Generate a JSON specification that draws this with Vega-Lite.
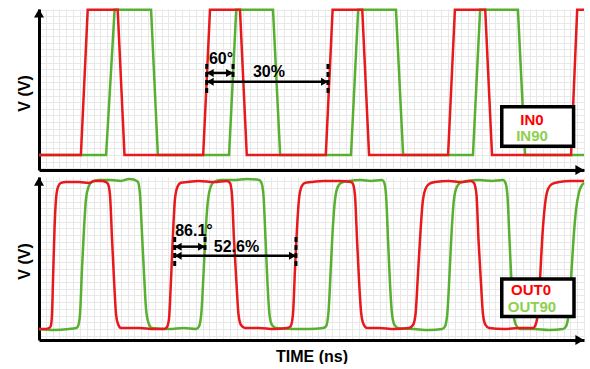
{
  "$schema": "https://vega.github.io/schema/vega-lite/v6.json",
  "background": "white",
  "padding": {"left": 16, "top": 4, "right": 5, "bottom": 0},
  "spacing": 7,
  "bounds": "flush",
  "config": {
    "view": {"stroke": null},
    "axis": {"labels": false, "ticks": false, "domainColor": "black", "domainWidth": 3, "gridColor": "#e8e8e8", "gridWidth": 1, "titleFont": "Liberation Sans", "titleFontSize": 16, "titleFontWeight": "bold", "titleColor": "black"}
  },
  "datasets": {
    "inR": [{"t":0,"v":0},{"t":6.15,"v":0},{"t":7.15,"v":1.1},{"t":11.55,"v":1.1},{"t":12.55,"v":0},{"t":24.1,"v":0},{"t":25.1,"v":1.1},{"t":29.5,"v":1.1},{"t":30.5,"v":0},{"t":42.1,"v":0},{"t":43.1,"v":1.1},{"t":47.45,"v":1.1},{"t":48.45,"v":0},{"t":60.05,"v":0},{"t":61.05,"v":1.1},{"t":65.5,"v":1.1},{"t":66.5,"v":0},{"t":78.1,"v":0},{"t":79.0,"v":1.1},{"t":80,"v":1.1}],
    "inG": [{"t":0,"v":0},{"t":9.85,"v":0},{"t":11.1,"v":1.1},{"t":16.45,"v":1.1},{"t":17.45,"v":0},{"t":27.9,"v":0},{"t":28.95,"v":1.1},{"t":34.35,"v":1.1},{"t":35.4,"v":0},{"t":45.8,"v":0},{"t":46.85,"v":1.1},{"t":52.4,"v":1.1},{"t":53.45,"v":0},{"t":63.7,"v":0},{"t":64.75,"v":1.1},{"t":70.3,"v":1.1},{"t":71.35,"v":0},{"t":80,"v":0}],
    "outR": [{"t":0,"v":0},{"t":0.73,"v":0},{"t":1.47,"v":0.007},{"t":1.72,"v":0.02},{"t":1.91,"v":0.11},{"t":2.06,"v":0.37},{"t":2.28,"v":0.75},{"t":2.5,"v":0.97},{"t":2.79,"v":1.06},{"t":3.23,"v":1.09},{"t":3.96,"v":1.096},{"t":5.87,"v":1.096},{"t":7.34,"v":1.089},{"t":8.07,"v":1.104},{"t":9.25,"v":1.104},{"t":9.83,"v":1.096},{"t":10.13,"v":1.081},{"t":10.42,"v":1.0},{"t":10.72,"v":0.67},{"t":11.01,"v":0.37},{"t":11.31,"v":0.11},{"t":11.6,"v":0.037},{"t":12.04,"v":0.007},{"t":14.68,"v":0.0075},{"t":16.88,"v":0},{"t":18.35,"v":0},{"t":18.79,"v":0.015},{"t":19.08,"v":0.075},{"t":19.38,"v":0.37},{"t":19.67,"v":0.71},{"t":19.96,"v":0.97},{"t":20.33,"v":1.06},{"t":20.84,"v":1.09},{"t":21.73,"v":1.096},{"t":23.49,"v":1.104},{"t":25.69,"v":1.096},{"t":27.6,"v":1.104},{"t":28.04,"v":1.089},{"t":28.33,"v":1.0},{"t":28.62,"v":0.67},{"t":28.99,"v":0.34},{"t":29.28,"v":0.11},{"t":29.65,"v":0.03},{"t":30.24,"v":0.0075},{"t":32.29,"v":0.0075},{"t":34.5,"v":0},{"t":36.4,"v":0.0075},{"t":36.92,"v":0.02},{"t":37.28,"v":0.11},{"t":37.58,"v":0.45},{"t":37.87,"v":0.75},{"t":38.17,"v":0.97},{"t":38.53,"v":1.06},{"t":39.05,"v":1.09},{"t":39.93,"v":1.096},{"t":41.83,"v":1.104},{"t":44.04,"v":1.104},{"t":45.8,"v":1.096},{"t":46.09,"v":1.081},{"t":46.39,"v":0.99},{"t":46.68,"v":0.67},{"t":46.97,"v":0.37},{"t":47.27,"v":0.13},{"t":47.63,"v":0.037},{"t":48.15,"v":0.0075},{"t":49.91,"v":0.0075},{"t":52.11,"v":0},{"t":54.31,"v":0.0075},{"t":54.9,"v":0.03},{"t":55.27,"v":0.11},{"t":55.63,"v":0.41},{"t":55.93,"v":0.67},{"t":56.29,"v":0.93},{"t":56.73,"v":1.044},{"t":57.25,"v":1.081},{"t":58.13,"v":1.096},{"t":60.18,"v":1.104},{"t":61.94,"v":1.096},{"t":63.41,"v":1.104},{"t":63.85,"v":1.089},{"t":64.22,"v":1.0},{"t":64.51,"v":0.67},{"t":64.88,"v":0.34},{"t":65.17,"v":0.11},{"t":65.54,"v":0.03},{"t":66.06,"v":0.0075},{"t":68.26,"v":0},{"t":70.46,"v":0.0075},{"t":72.51,"v":0.0075},{"t":72.88,"v":0.03},{"t":73.25,"v":0.13},{"t":73.54,"v":0.37},{"t":73.91,"v":0.71},{"t":74.28,"v":0.93},{"t":74.72,"v":1.044},{"t":75.3,"v":1.081},{"t":76.33,"v":1.096},{"t":78.09,"v":1.104},{"t":80,"v":1.104}],
    "outG": [{"t":0,"v":0},{"t":2.2,"v":-0.0075},{"t":4.4,"v":0},{"t":5.43,"v":0.0075},{"t":5.72,"v":0.02},{"t":6.02,"v":0.11},{"t":6.31,"v":0.45},{"t":6.61,"v":0.75},{"t":6.9,"v":0.97},{"t":7.27,"v":1.06},{"t":7.78,"v":1.096},{"t":8.81,"v":1.111},{"t":10.57,"v":1.111},{"t":12.04,"v":1.104},{"t":13.21,"v":1.119},{"t":14.09,"v":1.111},{"t":14.53,"v":1.096},{"t":14.83,"v":1.0},{"t":15.12,"v":0.71},{"t":15.42,"v":0.41},{"t":15.71,"v":0.15},{"t":16.08,"v":0.045},{"t":16.59,"v":0.0075},{"t":19.08,"v":0},{"t":21.3,"v":0.0075},{"t":23.05,"v":0},{"t":23.49,"v":0.02},{"t":23.85,"v":0.13},{"t":24.15,"v":0.41},{"t":24.44,"v":0.71},{"t":24.74,"v":0.93},{"t":25.1,"v":1.044},{"t":25.69,"v":1.096},{"t":26.72,"v":1.111},{"t":28.62,"v":1.111},{"t":30.53,"v":1.119},{"t":32.29,"v":1.111},{"t":32.66,"v":1.089},{"t":32.96,"v":0.99},{"t":33.25,"v":0.67},{"t":33.54,"v":0.34},{"t":33.83,"v":0.11},{"t":34.2,"v":0.03},{"t":34.79,"v":0.0075},{"t":37.43,"v":0},{"t":39.63,"v":0},{"t":41.69,"v":0.0075},{"t":42.13,"v":0.02},{"t":42.5,"v":0.13},{"t":42.79,"v":0.41},{"t":43.08,"v":0.71},{"t":43.38,"v":0.93},{"t":43.74,"v":1.044},{"t":44.33,"v":1.089},{"t":45.5,"v":1.104},{"t":47.27,"v":1.111},{"t":48.73,"v":1.104},{"t":50.35,"v":1.111},{"t":50.64,"v":1.096},{"t":50.94,"v":1.0},{"t":51.23,"v":0.67},{"t":51.52,"v":0.34},{"t":51.82,"v":0.11},{"t":52.18,"v":0.03},{"t":52.7,"v":0.0075},{"t":55.05,"v":0},{"t":57.25,"v":-0.0075},{"t":59.16,"v":0},{"t":59.6,"v":0.02},{"t":59.96,"v":0.13},{"t":60.26,"v":0.41},{"t":60.55,"v":0.71},{"t":60.84,"v":0.93},{"t":61.21,"v":1.044},{"t":61.8,"v":1.089},{"t":62.83,"v":1.104},{"t":64.59,"v":1.111},{"t":66.5,"v":1.104},{"t":68.11,"v":1.111},{"t":68.48,"v":1.089},{"t":68.77,"v":0.99},{"t":69.06,"v":0.67},{"t":69.36,"v":0.34},{"t":69.65,"v":0.11},{"t":70.02,"v":0.03},{"t":70.61,"v":0},{"t":72.66,"v":0},{"t":74.86,"v":-0.0075},{"t":76.92,"v":0},{"t":77.36,"v":0.02},{"t":77.73,"v":0.11},{"t":78.09,"v":0.37},{"t":78.46,"v":0.67},{"t":78.83,"v":0.89},{"t":79.27,"v":1.02},{"t":79.71,"v":1.074},{"t":80,"v":1.089}]
  },
  "vconcat": [
    {
      "width": 545,
      "height": 161,
      "layer": [
        {
          "data": {"name": "inG"},
          "mark": {"type": "line", "color": "#58b030", "strokeWidth": 2.5},
          "encoding": {
            "x": {"field": "t", "type": "quantitative", "scale": {"domain": [0, 80], "nice": false, "zero": false}, "axis": {"title": null, "tickCount": 80, "grid": true}},
            "y": {"field": "v", "type": "quantitative", "scale": {"domain": [-0.1136, 1.105], "nice": false, "zero": false}, "axis": {"title": "V (V)", "titlePadding": 7, "titleY": 84, "tickCount": 24, "grid": true}}
          }
        },
        {
          "data": {"name": "inR"},
          "mark": {"type": "line", "color": "#e8191c", "strokeWidth": 2.5},
          "encoding": {"x": {"field": "t", "type": "quantitative"}, "y": {"field": "v", "type": "quantitative"}}
        },
        {
          "data": {"values": [{"t": 24.62, "v": 0.689, "v2": 0.469}, {"t": 28.48, "v": 0.689, "v2": 0.583}, {"t": 42.42, "v": 0.689, "v2": 0.469}]},
          "mark": {"type": "rule", "color": "black", "strokeWidth": 3, "strokeDash": [5, 3]},
          "encoding": {"x": {"field": "t", "type": "quantitative"}, "y": {"field": "v", "type": "quantitative"}, "y2": {"field": "v2"}}
        },
        {
          "data": {"values": [{"t": 24.62, "t2": 28.48, "v": 0.621}, {"t": 24.62, "t2": 42.42, "v": 0.555}]},
          "mark": {"type": "rule", "color": "black", "strokeWidth": 2.5},
          "encoding": {"x": {"field": "t", "type": "quantitative"}, "x2": {"field": "t2"}, "y": {"field": "v", "type": "quantitative"}}
        },
        {
          "data": {"values": [{"t": 25.13, "v": 0.621, "dir": "left"}, {"t": 27.97, "v": 0.621, "dir": "right"}, {"t": 25.13, "v": 0.555, "dir": "left"}, {"t": 41.91, "v": 0.555, "dir": "right"}]},
          "mark": {"type": "point", "filled": true, "color": "black", "opacity": 1, "size": 64},
          "encoding": {"x": {"field": "t", "type": "quantitative"}, "y": {"field": "v", "type": "quantitative"}, "shape": {"field": "dir", "type": "nominal", "scale": {"domain": ["up", "right", "left"], "range": ["triangle-up", "triangle-right", "triangle-left"]}, "legend": null}}
        },
        {
          "data": {"values": [{"t": 0, "v": 1.0725, "dir": "up"}, {"t": 79.37, "v": -0.1136, "dir": "right"}]},
          "mark": {"type": "point", "filled": true, "color": "black", "opacity": 1, "size": 100},
          "encoding": {"x": {"field": "t", "type": "quantitative"}, "y": {"field": "v", "type": "quantitative"}, "shape": {"field": "dir", "type": "nominal", "scale": {"domain": ["up", "right", "left"], "range": ["triangle-up", "triangle-right", "triangle-left"]}, "legend": null}}
        },
        {
          "data": {"values": [{"t": 26.72, "v": 0.727, "label": "60°"}, {"t": 33.76, "v": 0.628, "label": "30%"}]},
          "mark": {"type": "text", "font": "Liberation Sans", "fontWeight": "bold", "fontSize": 16, "align": "center", "baseline": "middle", "color": "black"},
          "encoding": {"x": {"field": "t", "type": "quantitative"}, "y": {"field": "v", "type": "quantitative"}, "text": {"field": "label"}}
        },
        {
          "data": {"values": [{"t": 67.93, "t2": 78.47, "v": 0.366, "v2": 0.0658}]},
          "mark": {"type": "rect", "fill": "white", "stroke": "black", "strokeWidth": 3.5},
          "encoding": {"x": {"field": "t", "type": "quantitative"}, "x2": {"field": "t2"}, "y": {"field": "v", "type": "quantitative"}, "y2": {"field": "v2"}}
        },
        {
          "data": {"values": [{"t": 72.37, "v": 0.262, "label": "IN0"}, {"t": 72.37, "v": 0.145, "label": "IN90"}]},
          "mark": {"type": "text", "font": "Liberation Sans", "fontWeight": "bold", "fontSize": 15, "align": "center", "baseline": "middle"},
          "encoding": {"x": {"field": "t", "type": "quantitative"}, "y": {"field": "v", "type": "quantitative"}, "text": {"field": "label"}, "color": {"field": "label", "type": "nominal", "scale": {"domain": ["IN0", "IN90"], "range": ["#ff0000", "#8fcf50"]}, "legend": null}}
        }
      ]
    },
    {
      "width": 545,
      "height": 163,
      "layer": [
        {
          "data": {"name": "outG"},
          "mark": {"type": "line", "color": "#58b030", "strokeWidth": 2.5, "interpolate": "monotone"},
          "encoding": {
            "x": {"field": "t", "type": "quantitative", "scale": {"domain": [0, 80], "nice": false, "zero": false}, "axis": {"title": "TIME (ns)", "titlePadding": 8, "tickCount": 80, "grid": true}},
            "y": {"field": "v", "type": "quantitative", "scale": {"domain": [-0.082, 1.1335], "nice": false, "zero": false}, "axis": {"title": "V (V)", "titlePadding": 7, "titleY": 84, "tickCount": 24, "grid": true}}
          }
        },
        {
          "data": {"name": "outR"},
          "mark": {"type": "line", "color": "#e8191c", "strokeWidth": 2.5, "interpolate": "monotone"},
          "encoding": {"x": {"field": "t", "type": "quantitative"}, "y": {"field": "v", "type": "quantitative"}}
        },
        {
          "data": {"values": [{"t": 19.92, "v": 0.686, "v2": 0.462}, {"t": 24.37, "v": 0.686, "v2": 0.582}, {"t": 37.72, "v": 0.686, "v2": 0.462}]},
          "mark": {"type": "rule", "color": "black", "strokeWidth": 3, "strokeDash": [5, 3]},
          "encoding": {"x": {"field": "t", "type": "quantitative"}, "y": {"field": "v", "type": "quantitative"}, "y2": {"field": "v2"}}
        },
        {
          "data": {"values": [{"t": 19.92, "t2": 24.37, "v": 0.614}, {"t": 19.92, "t2": 37.72, "v": 0.547}]},
          "mark": {"type": "rule", "color": "black", "strokeWidth": 2.5},
          "encoding": {"x": {"field": "t", "type": "quantitative"}, "x2": {"field": "t2"}, "y": {"field": "v", "type": "quantitative"}}
        },
        {
          "data": {"values": [{"t": 20.43, "v": 0.614, "dir": "left"}, {"t": 23.86, "v": 0.614, "dir": "right"}, {"t": 20.43, "v": 0.547, "dir": "left"}, {"t": 37.21, "v": 0.547, "dir": "right"}]},
          "mark": {"type": "point", "filled": true, "color": "black", "opacity": 1, "size": 64},
          "encoding": {"x": {"field": "t", "type": "quantitative"}, "y": {"field": "v", "type": "quantitative"}, "shape": {"field": "dir", "type": "nominal", "scale": {"domain": ["up", "right", "left"], "range": ["triangle-up", "triangle-right", "triangle-left"]}, "legend": null}}
        },
        {
          "data": {"values": [{"t": 0, "v": 1.101, "dir": "up"}, {"t": 79.37, "v": -0.082, "dir": "right"}]},
          "mark": {"type": "point", "filled": true, "color": "black", "opacity": 1, "size": 100},
          "encoding": {"x": {"field": "t", "type": "quantitative"}, "y": {"field": "v", "type": "quantitative"}, "shape": {"field": "dir", "type": "nominal", "scale": {"domain": ["up", "right", "left"], "range": ["triangle-up", "triangle-right", "triangle-left"]}, "legend": null}}
        },
        {
          "data": {"values": [{"t": 22.75, "v": 0.733, "label": "86.1°"}, {"t": 28.99, "v": 0.614, "label": "52.6%"}]},
          "mark": {"type": "text", "font": "Liberation Sans", "fontWeight": "bold", "fontSize": 16, "align": "center", "baseline": "middle", "color": "black"},
          "encoding": {"x": {"field": "t", "type": "quantitative"}, "y": {"field": "v", "type": "quantitative"}, "text": {"field": "label"}}
        },
        {
          "data": {"values": [{"t": 67.93, "t2": 78.53, "v": 0.373, "v2": 0.093}]},
          "mark": {"type": "rect", "fill": "white", "stroke": "black", "strokeWidth": 3.5},
          "encoding": {"x": {"field": "t", "type": "quantitative"}, "x2": {"field": "t2"}, "y": {"field": "v", "type": "quantitative"}, "y2": {"field": "v2"}}
        },
        {
          "data": {"values": [{"t": 72.22, "v": 0.29, "label": "OUT0"}, {"t": 72.37, "v": 0.163, "label": "OUT90"}]},
          "mark": {"type": "text", "font": "Liberation Sans", "fontWeight": "bold", "fontSize": 15, "align": "center", "baseline": "middle"},
          "encoding": {"x": {"field": "t", "type": "quantitative"}, "y": {"field": "v", "type": "quantitative"}, "text": {"field": "label"}, "color": {"field": "label", "type": "nominal", "scale": {"domain": ["OUT0", "OUT90"], "range": ["#ff0000", "#8fcf50"]}, "legend": null}}
        }
      ]
    }
  ]
}
